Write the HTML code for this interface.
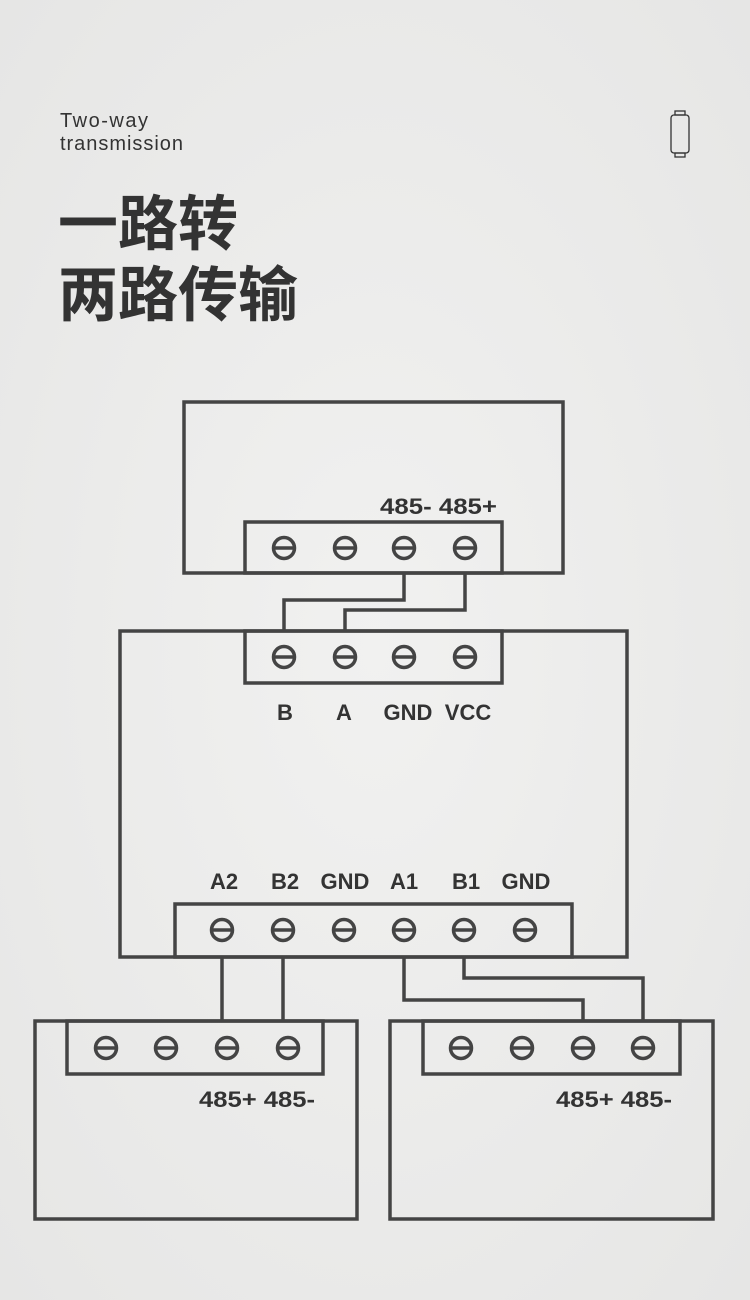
<!DOCTYPE html>
<html><head><meta charset="utf-8"><style>
body{margin:0;width:750px;height:1300px;overflow:hidden;background:#ececeb;}
svg{position:absolute;left:0;top:0}
</style></head><body>
<svg width="750" height="1300" viewBox="0 0 750 1300">
<defs><radialGradient id="g" cx="50%" cy="50%" r="70%"><stop offset="0" stop-color="#f1f1f0"/><stop offset="1" stop-color="#e6e6e5"/></radialGradient>
<g id="s"><circle r="10.5" fill="none" stroke="#444" stroke-width="3.5"/><line x1="-10" y1="0" x2="10" y2="0" stroke="#444" stroke-width="3.5"/></g></defs>
<rect width="750" height="1300" fill="url(#g)"/>
<text x="60" y="127" font-family="Liberation Sans, sans-serif" font-size="20" fill="#333" textLength="88">Two-way</text>
<text x="60" y="150" font-family="Liberation Sans, sans-serif" font-size="20" fill="#333" textLength="123">transmission</text>
<text x="58" y="245" font-family="Liberation Sans, Noto Sans CJK SC, sans-serif" font-weight="bold" font-size="60" fill="#333">一路转</text>
<text x="58" y="316" font-family="Liberation Sans, Noto Sans CJK SC, sans-serif" font-weight="bold" font-size="60" fill="#333">两路传输</text>
<g fill="none" stroke="#333" stroke-width="1.3"><rect x="671" y="115" width="18" height="38" rx="3"/><rect x="675" y="111" width="10" height="4"/><rect x="675" y="153" width="10" height="4"/></g>
<g fill="none" stroke="#444" stroke-width="3.5">
<rect x="184" y="402" width="379" height="171"/>
<rect x="245" y="522" width="257" height="51"/>
<polyline points="404,573 404,600 284,600 284,631"/>
<polyline points="465,573 465,610 345,610 345,631"/>
<rect x="120" y="631" width="507" height="326"/>
<rect x="245" y="631" width="257" height="52"/>
<rect x="175" y="904" width="397" height="53"/>
<line x1="222" y1="957" x2="222" y2="1021"/><line x1="283" y1="957" x2="283" y2="1021"/>
<polyline points="404,957 404,1000 583,1000 583,1021"/>
<polyline points="464,957 464,978 643,978 643,1021"/>
<rect x="35" y="1021" width="322" height="198"/>
<rect x="67" y="1021" width="256" height="53"/>
<rect x="390" y="1021" width="323" height="198"/>
<rect x="423" y="1021" width="257" height="53"/>
</g>
<use href="#s" x="284" y="548"/><use href="#s" x="345" y="548"/><use href="#s" x="404" y="548"/><use href="#s" x="465" y="548"/>
<use href="#s" x="284" y="657"/><use href="#s" x="345" y="657"/><use href="#s" x="404" y="657"/><use href="#s" x="465" y="657"/>
<use href="#s" x="222" y="930"/><use href="#s" x="283" y="930"/><use href="#s" x="344" y="930"/><use href="#s" x="404" y="930"/><use href="#s" x="464" y="930"/><use href="#s" x="525" y="930"/>
<use href="#s" x="106" y="1048"/><use href="#s" x="166" y="1048"/><use href="#s" x="227" y="1048"/><use href="#s" x="288" y="1048"/>
<use href="#s" x="461" y="1048"/><use href="#s" x="522" y="1048"/><use href="#s" x="583" y="1048"/><use href="#s" x="643" y="1048"/>
<g font-family="Liberation Sans, sans-serif" font-weight="bold" font-size="22" fill="#333">
<text x="380" y="514" textLength="117" lengthAdjust="spacingAndGlyphs">485- 485+</text>
<text x="199" y="1107" textLength="116" lengthAdjust="spacingAndGlyphs">485+ 485-</text>
<text x="556" y="1107" textLength="116" lengthAdjust="spacingAndGlyphs">485+ 485-</text>
</g>
<g font-family="Liberation Sans, sans-serif" font-weight="bold" font-size="22" fill="#333" text-anchor="middle">
<text x="285" y="720">B</text><text x="344" y="720">A</text><text x="408" y="720">GND</text><text x="468" y="720">VCC</text>
<text x="224" y="889">A2</text><text x="285" y="889">B2</text><text x="345" y="889">GND</text><text x="404" y="889">A1</text><text x="466" y="889">B1</text><text x="526" y="889">GND</text>
</g>
</svg>
</body></html>
